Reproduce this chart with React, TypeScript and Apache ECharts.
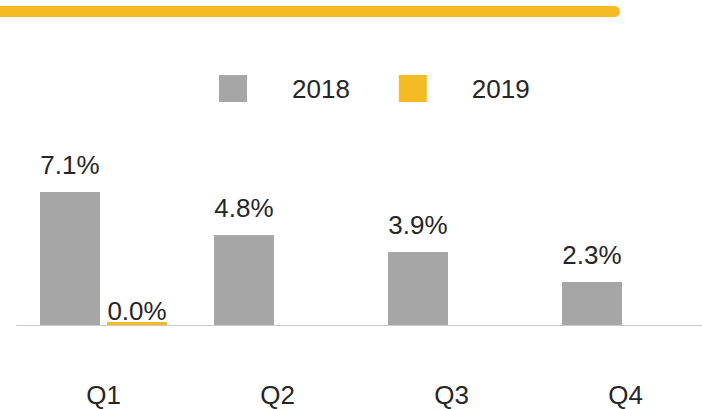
import React, { useEffect, useRef } from "react";
import * as echarts from "echarts";

const categories = ["Q1", "Q2", "Q3", "Q4"];
const series2018 = [7.1, 4.8, 3.9, 2.3];
const series2019: (number | null)[] = [0.0, null, null, null];
const legendNames = ["2018", "2019"];

const FONT = "'Liberation Sans', Arial, sans-serif";
const GRAY = "#A6A6A6";
const GOLD = "#F5BB24";

export default function App() {
  const ref = useRef<HTMLDivElement>(null);
  useEffect(() => {
    document.body.style.margin = "0";
    const chart = echarts.init(ref.current!, null, { renderer: "svg" });
    chart.setOption({
      animation: false,
      textStyle: { fontFamily: FONT },
      graphic: [
        {
          type: "rect",
          shape: { x: -20, y: 6, width: 640, height: 11, r: 5.5 },
          style: { fill: GOLD },
        },
      ],
      legend: {
        data: legendNames,
        left: 219,
        top: 75,
        padding: 0,
        icon: "rect",
        itemWidth: 28,
        itemHeight: 27,
        itemGap: 49,
        textStyle: {
          fontFamily: FONT,
          fontSize: 26,
          color: "#262626",
          padding: [0, 0, 0, 40],
        },
      },
      grid: { left: 16.5, top: 175, width: 696, height: 150 },
      xAxis: {
        type: "category",
        data: categories,
        axisLine: { lineStyle: { color: "#C9C9C9", width: 1 } },
        axisTick: { show: false },
        axisLabel: {
          fontFamily: FONT,
          fontSize: 26,
          lineHeight: 20,
          color: "#262626",
          margin: 60,
        },
      },
      yAxis: {
        type: "value",
        min: 0,
        max: 8,
        show: false,
        splitLine: { show: false },
      },
      series: [
        {
          name: "2018",
          type: "bar",
          data: series2018,
          barWidth: 60,
          barGap: "11.7%",
          itemStyle: { color: GRAY },
          label: {
            show: true,
            position: "top",
            distance: 14,
            fontFamily: FONT,
            fontSize: 26,
            color: "#262626",
            formatter: (p: any) => p.value.toFixed(1) + "%",
          },
        },
        {
          name: "2019",
          type: "bar",
          data: series2019.map((v) => (v === null ? "-" : v)),
          barWidth: 60,
          barMinHeight: 3,
          itemStyle: { color: GOLD },
          label: {
            show: true,
            position: "top",
            distance: -2,
            fontFamily: FONT,
            fontSize: 26,
            color: "#262626",
            formatter: (p: any) => Number(p.value).toFixed(1) + "%",
          },
        },
      ],
    });
    return () => chart.dispose();
  }, []);
  return (
    <div style={{ width: 702, height: 409, overflow: "hidden" }}>
      <div ref={ref} style={{ width: 720, height: 409 }} />
    </div>
  );
}
